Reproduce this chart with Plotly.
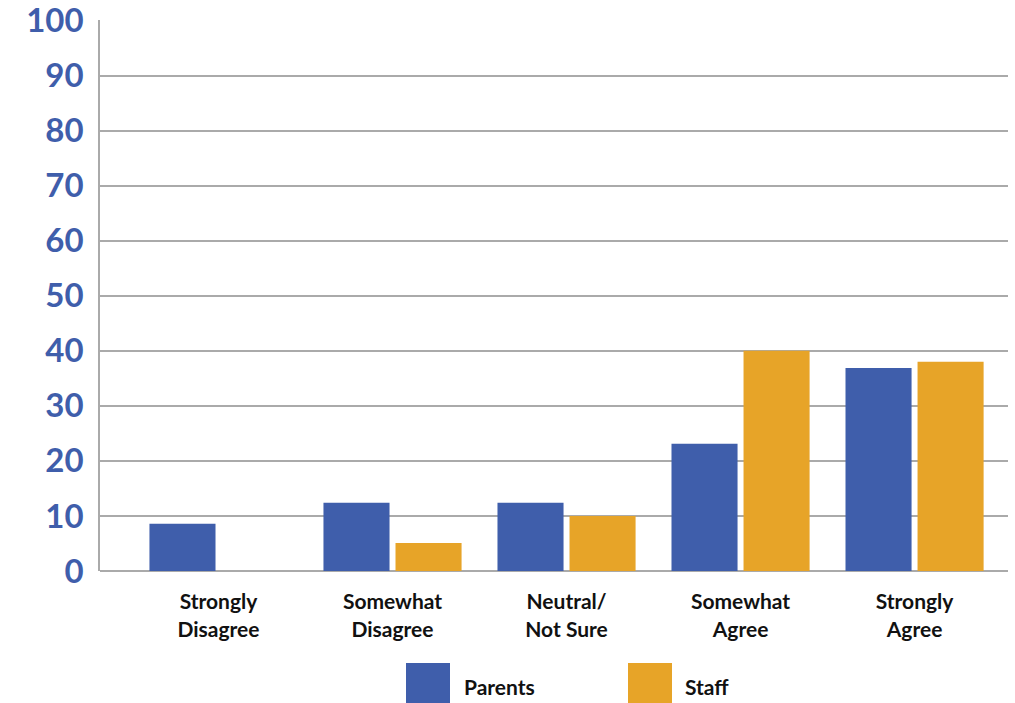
import plotly.graph_objects as go

categories = ["Strongly<br>Disagree", "Somewhat<br>Disagree", "Neutral/<br>Not Sure", "Somewhat<br>Agree", "Strongly<br>Agree"]
series_names = ["Parents", "Staff"]
parents = [8.6, 12.4, 12.4, 23.1, 36.9]
staff = [0, 5.1, 10.0, 40.0, 38.0]
y_ticks = [0, 10, 20, 30, 40, 50, 60, 70, 80, 90, 100]

colors = ["#3F5EAB", "#E7A428"]
W, H = 1015, 703
ml, mr, mt, mb = 100, 7, 20, 132
pw, ph = W - ml - mr, H - mt - mb

fig = go.Figure()
for name, vals, c in zip(series_names, [parents, staff], colors):
    fig.add_trace(go.Bar(x=list(range(len(categories))), y=vals, name=name,
                         marker=dict(color=c, line=dict(width=0)), showlegend=False))

def px_to_paper_x(px):
    return (px - ml) / pw

def px_to_paper_y(py):
    return (H - mb - py) / ph

# custom legend with large squares
legend_pos = [(406, 462), (628, 683)]
shapes = []
annotations = []
for (sx, tx), name, c in zip(legend_pos, series_names, colors):
    shapes.append(dict(type="rect", xref="paper", yref="paper",
                       x0=px_to_paper_x(sx), x1=px_to_paper_x(sx + 44),
                       y0=px_to_paper_y(703), y1=px_to_paper_y(663),
                       fillcolor=c, line=dict(width=0), layer="above"))
    annotations.append(dict(xref="paper", yref="paper", x=px_to_paper_x(tx), y=px_to_paper_y(686),
                            text=name, showarrow=False, xanchor="left", yanchor="middle",
                            font=dict(family="Lato", size=21, color="#111111", weight="bold")))

fig.update_layout(
    width=W, height=H,
    margin=dict(l=ml, r=mr, t=mt, b=mb, pad=0, autoexpand=False),
    paper_bgcolor="white", plot_bgcolor="white",
    barmode="group", bargap=0.172, bargroupgap=0.083,
    shapes=shapes, annotations=annotations,
    font=dict(family="Lato"),
)
fig.update_xaxes(
    range=[-0.681, 4.537], automargin=False,
    tickmode="array", tickvals=list(range(len(categories))), ticktext=categories,
    tickfont=dict(family="Lato", size=21, color="#111111", weight="bold"),
    showgrid=False, zeroline=False, showline=False,
    ticks="outside", ticklen=0, ticklabelstandoff=12,
)
fig.update_yaxes(
    range=[0, 100.1], tickmode="array", tickvals=y_ticks, automargin=False,
    tickfont=dict(family="Lato", size=33, color="#3F5EAB", weight="bold"),
    showgrid=True, gridcolor="#AAAAAA", gridwidth=1.5,
    zeroline=True, zerolinecolor="#AAAAAA", zerolinewidth=1.5,
    showline=True, linecolor="#AAAAAA", linewidth=1.5,
    ticks="outside", ticklen=0, ticklabelstandoff=8,
    ticklabeloverflow="allow",
)

fig.write_html("out.html")
